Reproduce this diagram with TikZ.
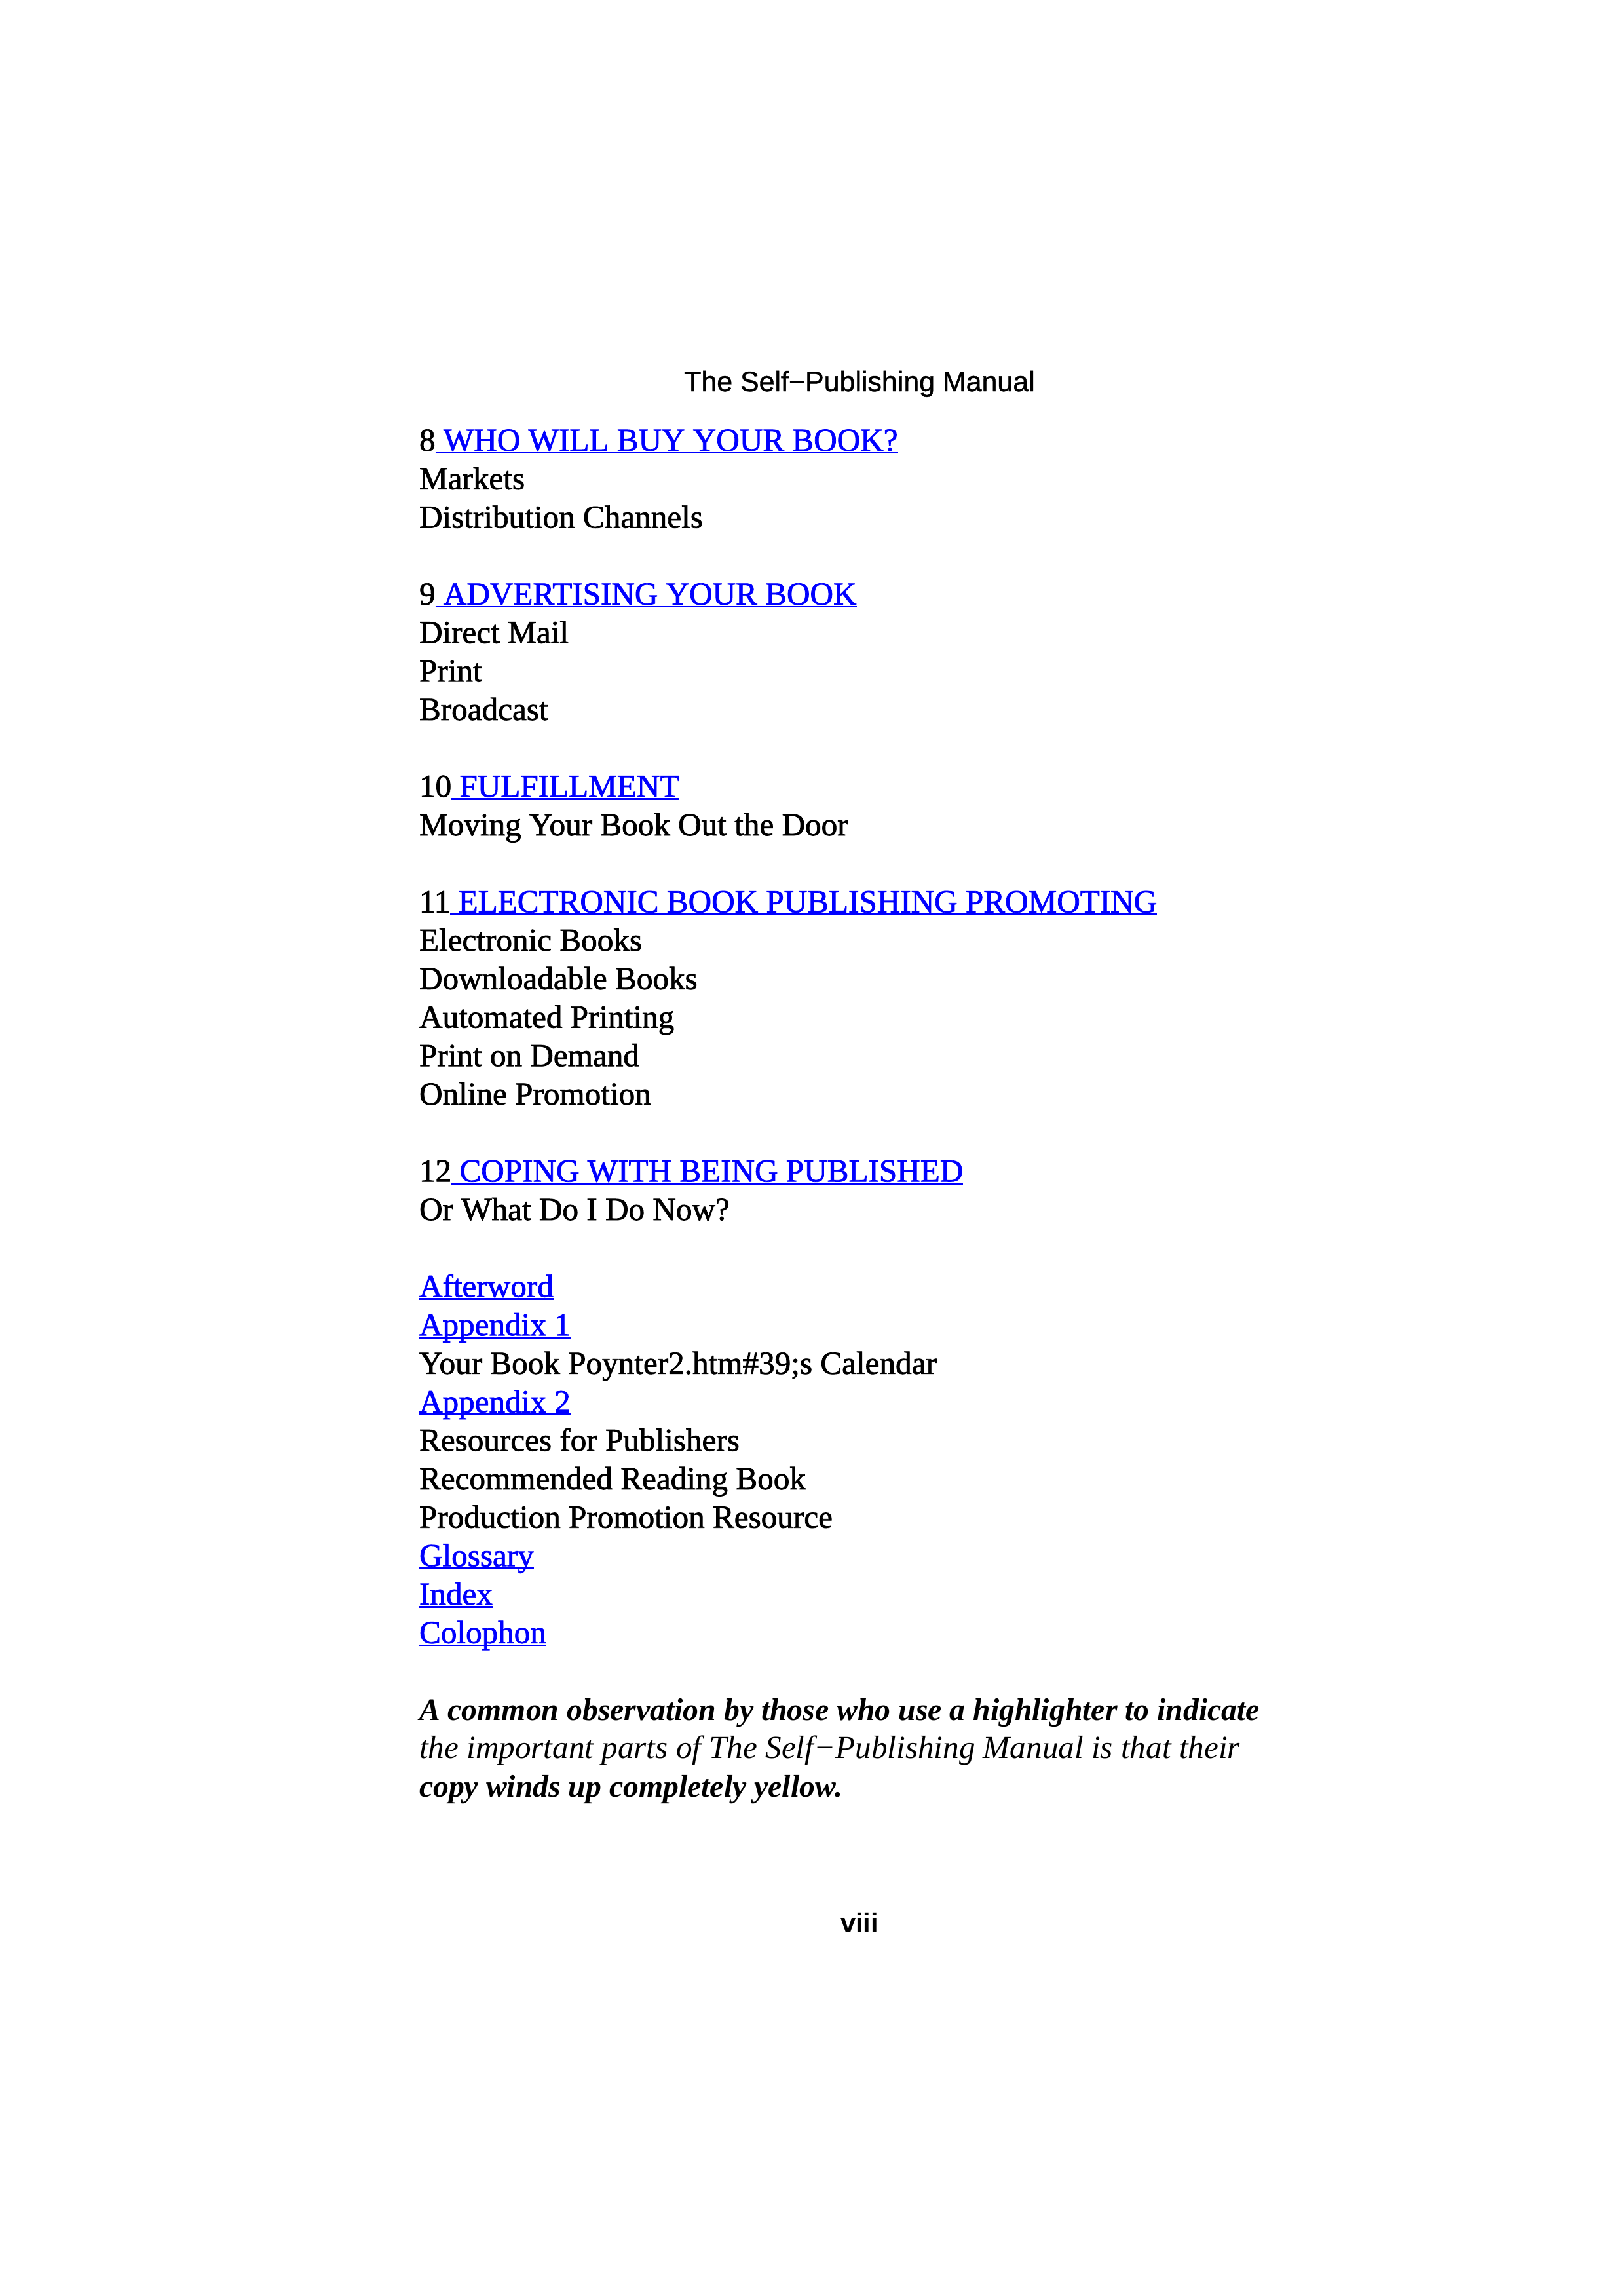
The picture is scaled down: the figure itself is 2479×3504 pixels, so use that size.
\documentclass[tikz,border=0pt]{standalone}
\usepackage{fontspec}
\setmainfont{Liberation Serif}
\newfontfamily\bodyfont{Liberation Serif}[FakeBold=1.5]
\newfontfamily\hdrfont{Liberation Sans}[FakeBold=1]
\newfontfamily\pgfont{Liberation Sans Bold}
\definecolor{linkblue}{RGB}{0,0,255}
\tikzset{
  txt/.style={anchor=base west, inner sep=0pt, outer sep=0pt, font=\bodyfont\fontsize{11.8}{14}\selectfont},
  lnk/.style={txt, text=linkblue},
  uln/.style={draw=linkblue, line width=0.65pt},
  quotebf/.style={anchor=base west, inner sep=0pt, outer sep=0pt, font=\fontsize{11.45}{14}\selectfont\bfseries\itshape},
  quoteit/.style={anchor=base west, inner sep=0pt, outer sep=0pt, font=\fontsize{11.8}{14}\selectfont\itshape},
}
\begin{document}
\begin{tikzpicture}[x=0.24pt, y=-0.24pt]
\useasboundingbox (0,0) rectangle (2479,3504);
% header
\node[anchor=base, inner sep=0pt, font=\hdrfont\fontsize{10.3}{12}\selectfont] (hdr) at (1312,597) {The Self−Publishing Manual};
% chapter 8
\node[txt] (n8) at (640,688) {8};
\node[lnk, anchor=base west] (c8) at (n8.base east) {\ WHO WILL BUY YOUR BOOK?};
\node[txt] (l1) at (640,746.7) {Markets};
\node[txt] (l2) at (640,805.4) {Distribution Channels};
% chapter 9
\node[txt] (n9) at (640,922.8) {9};
\node[lnk, anchor=base west] (c9) at (n9.base east) {\ ADVERTISING YOUR BOOK};
\node[txt] (l5) at (640,981.5) {Direct Mail};
\node[txt] (l6) at (640,1040.2) {Print};
\node[txt] (l7) at (640,1098.9) {Broadcast};
% chapter 10
\node[txt] (n10) at (640,1216.3) {10};
\node[lnk, anchor=base west] (c10) at (n10.base east) {\ FULFILLMENT};
\node[txt] (l10) at (640,1275.0) {Moving Your Book Out the Door};
% chapter 11
\node[txt] (n11) at (640,1392.4) {11};
\node[lnk, anchor=base west] (c11) at (n11.base east) {\ ELECTRONIC BOOK PUBLISHING PROMOTING};
\node[txt] (l13) at (640,1451.1) {Electronic Books};
\node[txt] (l14) at (640,1509.8) {Downloadable Books};
\node[txt] (l15) at (640,1568.5) {Automated Printing};
\node[txt] (l16) at (640,1627.2) {Print on Demand};
\node[txt] (l17) at (640,1685.9) {Online Promotion};
% chapter 12
\node[txt] (n12) at (640,1803.3) {12};
\node[lnk, anchor=base west] (c12) at (n12.base east) {\ COPING WITH BEING PUBLISHED};
\node[txt] (l20) at (640,1862.0) {Or What Do I Do Now?};
% back matter
\node[lnk] (aft) at (640,1979.4) {Afterword};
\node[lnk] (ap1) at (640,2038.1) {Appendix 1};
\node[txt] (l24) at (640,2096.8) {Your Book Poynter2.htm\#39;s Calendar};
\node[lnk] (ap2) at (640,2155.5) {Appendix 2};
\node[txt] (l26) at (640,2214.2) {Resources for Publishers};
\node[txt] (l27) at (640,2272.9) {Recommended Reading Book};
\node[txt] (l28) at (640,2331.6) {Production Promotion Resource};
\node[lnk] (glo) at (640,2390.3) {Glossary};
\node[lnk] (idx) at (640,2449.0) {Index};
\node[lnk] (col) at (640,2507.7) {Colophon};
% underlines
\foreach \n in {c8,c9,c10,c11,c12,aft,ap1,ap2,glo,idx,col}
  \draw[uln] ([yshift=-0.75pt]\n.base west) -- ([yshift=-0.75pt]\n.base east);
% quote
\node[quotebf] (q1) at (640,2625.1) {A common observation by those who use a highlighter to indicate};
\node[quoteit] (q2) at (640,2683.8) {the important parts of The Self−Publishing Manual is that their};
\node[quotebf] (q3) at (640,2742.5) {copy winds up completely yellow.};
% page number
\node[anchor=base, inner sep=0pt, font=\pgfont\fontsize{10}{12}\selectfont] (pg) at (1312,2949) {viii};
\end{tikzpicture}
\end{document}
